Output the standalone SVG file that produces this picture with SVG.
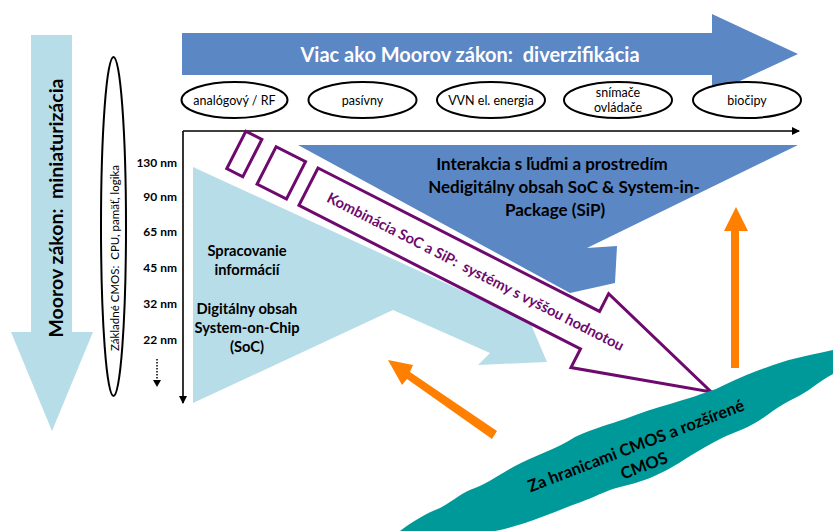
<svg xmlns="http://www.w3.org/2000/svg" width="833" height="531" viewBox="0 0 833 531">
<style>
text{font-family:"Lato","Liberation Sans",sans-serif;white-space:pre;}
.b{font-weight:bold;}
.lb{fill:#B7DDE8;}
.db{fill:#5B87C5;}
.el{fill:#fff;stroke:#000;stroke-width:2;}
.et{font-size:12.5px;fill:#000;text-anchor:middle;}
.nm{font-size:12px;font-weight:bold;fill:#000;text-anchor:end;}
.pp{fill:#fff;stroke:#6E0A6E;stroke-width:3;stroke-linejoin:miter;}
.or{fill:#FF8000;}
.ax{stroke:#000;stroke-width:1.6;fill:none;}
.c{text-anchor:middle;}
</style>
<defs>
<marker id="ah" markerWidth="8" markerHeight="8" refX="7" refY="4" orient="auto" markerUnits="userSpaceOnUse">
<path d="M0,0 L8,4 L0,8 z" fill="#000"/>
</marker>
</defs>

<g id="miniaturizacia">
<polygon class="lb" points="31,35 72,35 72,332 93,332 52,431 11,332 31,332"/>
<text class="b" xml:space="preserve" transform="translate(55,208) rotate(-90)" text-anchor="middle" dominant-baseline="central" font-size="19.5" fill="#000">Moorov zákon:  miniaturizácia</text>
</g>

<g id="zakladne-cmos">
<ellipse class="el" cx="113.5" cy="226.5" rx="12.5" ry="169.5"/>
<text xml:space="preserve" transform="translate(114,258) rotate(-90)" text-anchor="middle" dominant-baseline="central" font-size="11.5" fill="#000">Základné CMOS:  CPU, pamäť, logika</text>
</g>

<g id="nm-scale">
<text class="nm" x="177" y="167">130 nm</text>
<text class="nm" x="177" y="201">90 nm</text>
<text class="nm" x="177" y="236">65 nm</text>
<text class="nm" x="177" y="272">45 nm</text>
<text class="nm" x="177" y="308">32 nm</text>
<text class="nm" x="177" y="344">22 nm</text>
<line x1="157" y1="359" x2="157" y2="380" stroke="#000" stroke-width="1.5" stroke-dasharray="1.5,1.5"/>
<path d="M153,380 L161,380 L157,387 z" fill="#000"/>
</g>

<g id="diverzifikacia">
<polygon class="db" points="182,33 712,33 712,14 798,54 712,94 712,75 182,75"/>
<text class="b c" xml:space="preserve" x="470" y="62" font-size="20" fill="#fff">Viac ako Moorov zákon:  diverzifikácia</text>
</g>

<g id="analogovy">
<ellipse class="el" cx="234.5" cy="100" rx="53" ry="18"/>
<text class="et" x="234.5" y="104.5">analógový / RF</text>
</g>
<g id="pasivny">
<ellipse class="el" cx="362.5" cy="100" rx="54" ry="18"/>
<text class="et" x="362.5" y="104.5">pasívny</text>
</g>
<g id="vvn">
<ellipse class="el" cx="491" cy="100" rx="54" ry="18"/>
<text class="et" x="491" y="104.5">VVN el. energia</text>
</g>
<g id="snimace">
<ellipse class="el" cx="618" cy="100" rx="54" ry="18"/>
<text class="et" x="618" y="97">snímače</text>
<text class="et" x="618" y="112">ovládače</text>
</g>
<g id="biocipy">
<ellipse class="el" cx="747" cy="100" rx="54" ry="18"/>
<text class="et" x="747" y="104.5">biočipy</text>
</g>

<g id="connectors">
<line class="ax" x1="183" y1="131" x2="799" y2="131" marker-end="url(#ah)"/>
<line class="ax" x1="183" y1="131" x2="183" y2="403" marker-end="url(#ah)"/>
</g>

<g id="spracovanie">
<polygon class="lb" points="193,167 530,322 547,362 478,365 490,353 393,310 193,403"/>
<text class="b c" x="247" y="256" font-size="14.7" fill="#000">Spracovanie</text>
<text class="b c" x="247" y="275" font-size="14.7" fill="#000">informácií</text>
<text class="b c" x="247" y="314" font-size="14.7" fill="#000">Digitálny obsah</text>
<text class="b c" x="247" y="333" font-size="14.7" fill="#000">System-on-Chip</text>
<text class="b c" x="247" y="352" font-size="14.7" fill="#000">(SoC)</text>
</g>

<g id="interakcia">
<polygon class="db" points="298,145 798,145 587,248 617,246 615,283 570,293"/>
<text class="b c" x="552" y="170" font-size="17" fill="#000">Interakcia s ľuďmi a prostredím</text>
<text class="b c" x="564" y="193" font-size="17" fill="#000">Nedigitálny obsah SoC &amp; System-in-</text>
<text class="b c" x="555" y="216" font-size="17" fill="#000">Package (SiP)</text>
</g>

<g id="kombinacia" transform="translate(318,168) rotate(27)">
<rect class="pp" x="-81" y="0" width="18" height="42"/>
<rect class="pp" x="-47" y="0" width="33" height="42"/>
<polygon class="pp" points="0,0 316,0 316,-20 452,21 316,63 316,42 0,42"/>
<text class="b" xml:space="preserve" x="22" y="26" font-size="14.7" fill="#6E0A6E">Kombinácia SoC a SiP:  systémy s vyššou hodnotou</text>
</g>

<g id="orange-arrows">
<polygon class="or" points="731,368 739,368 739,231 748,231 736,207 724,231 731,231"/>
<polygon class="or" points="497,431 492,439 407,379 402,385 388,360 413,365 410,372"/>
</g>

<g id="za-hranicami">
<path fill="#009999" d="M400,531 C415,520 425,514 440,508 C455,500 462,492 475,488 C490,482 500,474 515,466 C535,455 555,450 575,437 C595,428 610,424 625,419 C640,413 655,408 670,404 C690,398 702,394 716,389 C735,380 748,374 765,368 C785,360 805,356 833,350 L833,374 C818,382 808,392 795,398 C780,405 772,412 760,420 C748,428 735,432 722,438 C710,444 700,450 690,456 C675,466 662,473 650,478 C635,484 622,486 610,490 C595,496 585,501 570,506 C555,512 540,518 525,523 C512,527 505,529 495,531 Z"/>
<text class="b c" transform="translate(638,451) rotate(-21)" font-size="16.5" fill="#000">Za hranicami CMOS a rozšírené</text>
<text class="b c" transform="translate(646,471) rotate(-21)" font-size="16.5" fill="#000">CMOS</text>
</g>
</svg>
